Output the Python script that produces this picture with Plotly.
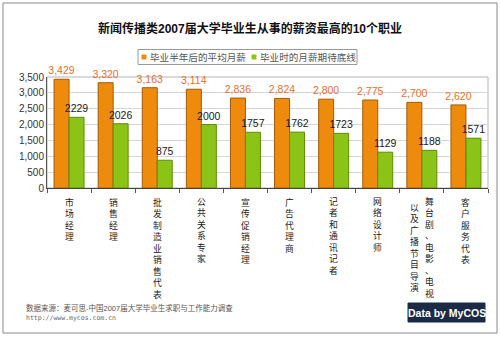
import plotly.graph_objects as go

categories = ["市场经理", "销售经理", "批发制造业销售代表", "公共关系专家", "宣传促销经理",
              "广告代理商", "记者和通讯记者", "网络设计师",
              "舞台剧、电影、电视以及广播节目导演", "客户服务代表"]
avg_salary = [3429, 3320, 3163, 3114, 2836, 2824, 2800, 2775, 2700, 2620]
expected_min = [2229, 2026, 875, 2000, 1757, 1762, 1723, 1129, 1188, 1571]
series_names = ["毕业半年后的平均月薪", "毕业时的月薪期待底线"]
series_colors = ["#EE8A0C", "#8CC317"]
y_ticks = [0, 500, 1000, 1500, 2000, 2500, 3000, 3500]

W, H = 500, 337
L, R, T, B = 47, 488, 77, 188


def px(x):
    return (x - L) / (R - L)


def py(y):
    return (B - y) / (B - T)


CJK = "Liberation Sans, Noto Sans CJK SC"
LAT = "Liberation Sans"

fig = go.Figure()
fig.add_trace(go.Bar(
    x=categories, y=avg_salary, name=series_names[0], showlegend=False,
    marker=dict(color=series_colors[0], line=dict(color="#A65A05", width=1)),
    texttemplate="%{y:,.0f}", textposition="outside", constraintext="none",
    textfont=dict(family=LAT, size=10.5, color="#E8702A"),
    cliponaxis=False,
))
fig.add_trace(go.Bar(
    x=categories, y=expected_min, name=series_names[1], showlegend=False,
    marker=dict(color=series_colors[1], line=dict(color="#5E8C0A", width=1)),
    texttemplate="%{y:.0f}", textposition="outside", constraintext="none",
    textfont=dict(family=LAT, size=10.5, color="#1A1A1A"),
    cliponaxis=False,
))

annotations = []
lab_font = dict(family=CJK, size=8.8, color="#222")
for cat in categories:
    if "以及" in cat:
        right, left = cat.split("以及")
        left = "以及" + left
        annotations.append(dict(x=cat, y=0, xref="x", yref="paper", yanchor="top",
                                xshift=8, yshift=-7, showarrow=False,
                                text="<br>".join(right), font=lab_font))
        annotations.append(dict(x=cat, y=0, xref="x", yref="paper", yanchor="top",
                                xshift=-7, yshift=-13, showarrow=False,
                                text="<br>".join(left), font=lab_font))
    else:
        annotations.append(dict(x=cat, y=0, xref="x", yref="paper", yanchor="top",
                                yshift=-7, showarrow=False,
                                text="<br>".join(cat), font=lab_font))

# manual legend text
leg_x = [148, 258]
for name, lx in zip(series_names, leg_x):
    annotations.append(dict(x=px(lx), y=py(57), xref="paper", yref="paper",
                            xanchor="left", yanchor="middle", showarrow=False, text=name,
                            font=dict(family=CJK, size=9.6, color="#555")))

annotations += [
    dict(x=px(24), y=py(308), xref="paper", yref="paper", xanchor="left", yanchor="middle",
         showarrow=False, text="数据来源：麦可思-中国2007届大学毕业生求职与工作能力调查",
         font=dict(family=CJK, size=7.5, color="#555")),
    dict(x=px(24), y=py(318), xref="paper", yref="paper", xanchor="left", yanchor="middle",
         showarrow=False, text="http://www.mycos.com.cn",
         font=dict(family="DejaVu Sans Mono", size=6.5, color="#666")),
    dict(x=px(446.5), y=py(312.5), xref="paper", yref="paper", xanchor="center", yanchor="middle",
         showarrow=False, text="<b>Data by MyCOS</b>",
         font=dict(family=LAT, size=10.5, color="#FFFFFF")),
]

shapes = [
    dict(type="rect", xref="paper", yref="paper", x0=px(3), x1=px(497), y0=py(333), y1=py(3),
         line=dict(color="#8A8A8A", width=1), layer="below"),
    dict(type="rect", xref="paper", yref="paper", x0=0, x1=1, y0=0, y1=1,
         line=dict(color="#B5B5B5", width=1), layer="below"),
    # legend box
    dict(type="rect", xref="paper", yref="paper", x0=px(138), x1=px(357), y0=py(64.5), y1=py(49.5),
         line=dict(color="#9A9A9A", width=1), fillcolor="white", layer="below"),
    # logo box
    dict(type="rect", xref="paper", yref="paper", x0=px(408), x1=px(485), y0=py(322), y1=py(303),
         line=dict(color="#1B2B46", width=1), fillcolor="#1B2B46", layer="below"),
]
for col, lx in zip(series_colors, leg_x):
    shapes.append(dict(type="rect", xref="paper", yref="paper",
                       x0=px(lx - 6), x1=px(lx - 2), y0=py(59), y1=py(55),
                       line=dict(color=col, width=1), fillcolor=col))

fig.update_layout(
    width=W, height=H, autosize=False,
    margin=dict(l=L, r=W - R, t=T, b=H - B, pad=0),
    paper_bgcolor="white", plot_bgcolor="white",
    barmode="group", bargap=0.32, bargroupgap=0.0,
    showlegend=False,
    title=dict(text="<b>新闻传播类2007届大学毕业生从事的薪资最高的10个职业</b>",
               x=0.5, xanchor="center", y=1 - 29 / H, yanchor="middle",
               font=dict(family=CJK, size=12, color="#111")),
    xaxis=dict(type="category", showticklabels=False, tickson="boundaries",
               ticks="outside", ticklen=4, tickcolor="#555",
               showline=True, linecolor="#444", linewidth=1,
               showgrid=False, range=[-0.5, len(categories) - 0.5]),
    yaxis=dict(range=[0, 3500], tickvals=y_ticks, tickformat=",",
               ticks="", showline=True, linecolor="#555", linewidth=1,
               showgrid=True, gridcolor="#D6D6D6", gridwidth=1, zeroline=False,
               tickfont=dict(family=LAT, size=10, color="#333")),
    annotations=annotations, shapes=shapes,
)

fig.write_html("out.html")
